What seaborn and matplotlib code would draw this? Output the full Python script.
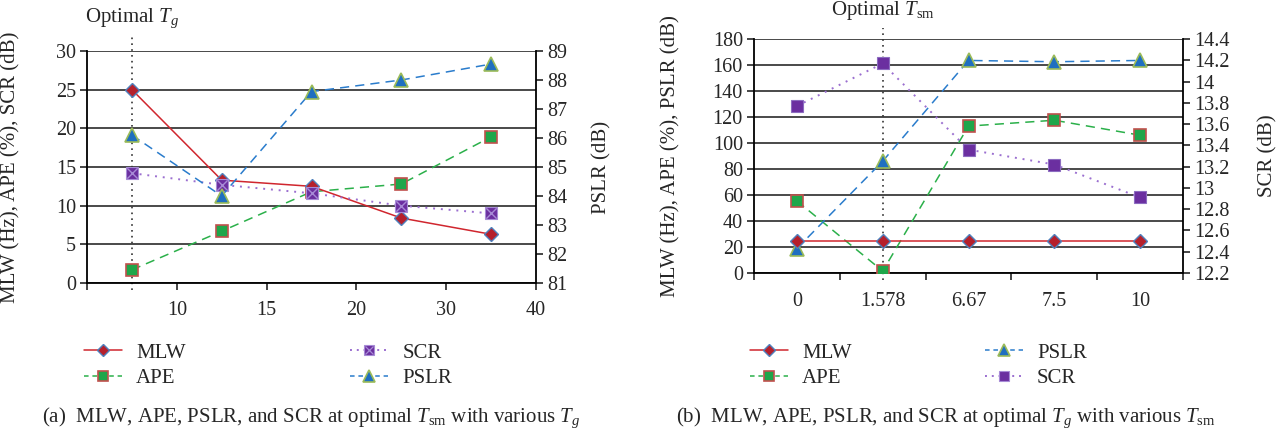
import numpy as np
import pandas as pd
import matplotlib
matplotlib.use("Agg")
import matplotlib.pyplot as plt
import seaborn as sns
from matplotlib.ticker import FixedLocator, FuncFormatter
from matplotlib.legend_handler import HandlerTuple
from matplotlib.lines import Line2D

# ---------------- data ----------------
# (a) various T_g
a_xlabels = ["10", "15", "20", "30", "40"]
a_mlw = [25.0, 13.3, 12.5, 8.4, 6.3]
a_ape = [1.7, 6.7, 11.8, 12.8, 18.9]
a_scr = [14.2, 12.7, 11.6, 10.0, 9.0]
a_pslr = [86.1, 84.0, 87.6, 88.0, 88.55]

# (b) various T_sm
b_cats = ["0", "1.578", "6.67", "7.5", "10"]
b_mlw = [25, 25, 25, 25, 25]
b_ape = [55.4, 1.5, 113, 117.5, 106]
b_pslr = [18.8, 86, 163.5, 162.5, 163.5]
b_scr = [13.77, 14.17, 13.36, 13.22, 12.91]

# ---------------- style ----------------
sns.set_style("white")
plt.rcParams["font.family"] = ["Liberation Serif", "DejaVu Serif"]
plt.rcParams["mathtext.fontset"] = "custom"
plt.rcParams["mathtext.rm"] = "Liberation Serif"
plt.rcParams["mathtext.it"] = "Liberation Serif:italic"
FS = 15
TFS = 14.5

C_MLW_L, C_MLW_F, C_MLW_E = "#d0262e", "#b5202c", "#4f81bd"
C_APE_L, C_APE_F, C_APE_E = "#2bb04a", "#1fa64a", "#c0504d"
C_SCR_L, C_SCR_F, C_SCR_X = "#9b6fd0", "#6b2fa0", "#a78bd6"
C_PS_L, C_PS_F, C_PS_E = "#2a7ccc", "#1f6fc0", "#9bbb59"
GRID = "#3a3a3a"

STY = {
    "MLW": dict(color=C_MLW_L, lw=1.1, linestyle="-", marker="D", markersize=7,
                markerfacecolor=C_MLW_F, markeredgecolor=C_MLW_E, markeredgewidth=1.0),
    "APE": dict(color=C_APE_L, lw=1.1, linestyle=(0, (6, 4)), marker="s", markersize=9,
                markerfacecolor=C_APE_F, markeredgecolor=C_APE_E, markeredgewidth=1.2),
    "SCR": dict(color=C_SCR_L, lw=1.4, linestyle=(0, (1, 3)), marker="s", markersize=9,
                markerfacecolor=C_SCR_F, markeredgecolor=C_SCR_X, markeredgewidth=0.8),
    "PSLR": dict(color=C_PS_L, lw=1.1, linestyle=(0, (6, 4)), marker="^", markersize=10,
                 markerfacecolor=C_PS_F, markeredgecolor=C_PS_E, markeredgewidth=1.2),
}
LEG_STY = {
    "MLW": dict(STY["MLW"], markersize=6),
    "APE": dict(STY["APE"], markersize=7.5, linestyle=(0, (3, 2.5))),
    "SCR": dict(STY["SCR"], markersize=7.5, linestyle=(0, (1, 2.5))),
    "PSLR": dict(STY["PSLR"], markersize=8, linestyle=(0, (3, 2.5))),
}

fig = plt.figure(figsize=(12.8, 4.4), dpi=100)
W, H = 1280, 440


def axes_px(x0, x1, ytop, ybot):
    return fig.add_axes([x0 / W, 1 - ybot / H, (x1 - x0) / W, (ybot - ytop) / H])


def style_axes(ax, ax2):
    for a in (ax, ax2):
        a.set_facecolor("none")
        for s in a.spines.values():
            s.set_visible(False)
    ax.spines["left"].set_visible(True)
    ax.spines["bottom"].set_visible(True)
    ax2.spines["right"].set_visible(True)
    for s in (ax.spines["left"], ax.spines["bottom"], ax2.spines["right"]):
        s.set_color("black")
        s.set_linewidth(1.3)
    ax.tick_params(axis="y", which="major", direction="out", length=5, width=1.2,
                   labelsize=TFS, pad=3, left=True)
    ax.tick_params(axis="x", which="major", direction="out", length=5, width=1.2,
                   labelsize=TFS, bottom=True)
    ax2.tick_params(axis="y", which="major", direction="out", length=5, width=1.2,
                    labelsize=TFS, pad=3, right=True)
    ax.yaxis.grid(True, color=GRID, lw=1.3)
    ax.xaxis.grid(False)
    ax2.grid(False)
    ax.set_axisbelow(True)


def proxy(name):
    return Line2D([0, 1], [0, 0], **LEG_STY[name])


# ================= (a) =================
n = len(a_xlabels)
pos = np.arange(n)
axA = axes_px(87, 536, 51, 283)
axA2 = axA.twinx()

dfA = pd.DataFrame({"pos": pos, "MLW": a_mlw, "APE": a_ape, "SCR": a_scr, "PSLR": a_pslr})

sns.lineplot(data=dfA, x="pos", y="MLW", ax=axA, zorder=4, **STY["MLW"])
sns.lineplot(data=dfA, x="pos", y="APE", ax=axA, zorder=3, **STY["APE"])
sns.lineplot(data=dfA, x="pos", y="SCR", ax=axA, zorder=5, **STY["SCR"])
sns.scatterplot(data=dfA, x="pos", y="SCR", ax=axA, marker="x", s=55,
                color=C_SCR_X, linewidth=1.0, zorder=6)
sns.lineplot(data=dfA, x="pos", y="PSLR", ax=axA2, zorder=3, **STY["PSLR"])

axA.set_xlim(-0.5, n - 0.5)
axA.set_ylim(0, 30)
axA.set_yticks(np.arange(0, 31, 5))
axA2.set_ylim(81, 89)
axA2.set_yticks(np.arange(81, 90, 1))
axA.set_xticks(np.arange(n + 1) - 0.5)
axA.set_xticklabels([""] + a_xlabels)
axA.tick_params(axis="x", pad=8)
style_axes(axA, axA2)
axA.set_xlabel("")
axA.set_ylabel("MLW (Hz), APE (%), SCR (dB)", fontsize=FS)
axA.yaxis.set_label_coords(-(87 - 20) / 449, 0.5)
axA2.set_ylabel("PSLR (dB)", fontsize=FS)
axA2.yaxis.set_label_coords((592 - 87) / 449, 0.5)
axA2.set_xlabel("")

axA.axvline(pos[0], ymin=-0.03, ymax=(283 - 35) / 232, color="#333333",
            lw=1.2, ls=(0, (1, 2.5)), clip_on=False, zorder=2)
axA.text(pos[0], (283 - 18) / 232, "Optimal $T_g$", transform=axA.get_xaxis_transform(),
         ha="center", va="center", fontsize=FS)

h_scr_x = Line2D([0], [0], ls="none", marker="x", color=C_SCR_X, markersize=6, mew=0.9)
fig.legend([proxy("MLW"), proxy("APE"), (proxy("SCR"), h_scr_x), proxy("PSLR")],
           ["MLW", "APE", "SCR", "PSLR"],
           handler_map={tuple: HandlerTuple(ndivide=1, pad=0)}, numpoints=1,
           loc="upper left", bbox_to_anchor=(84 / W, 1 - 343 / H), ncol=2,
           frameon=False, fontsize=FS, handlelength=1.8, handletextpad=0.7,
           columnspacing=7.9, labelspacing=0.3, borderpad=0, borderaxespad=0)

fig.text(311 / W, 1 - 418 / H,
         r"(a)  MLW, APE, PSLR, and SCR at optimal $T_{\mathrm{sm}}$ with various $T_g$",
         ha="center", va="center", fontsize=FS)

# ================= (b) =================
m = len(b_cats)
posb = np.arange(m)
axB = axes_px(754, 1183, 39, 273)
axB2 = axB.twinx()
dfB = pd.DataFrame({"pos": posb, "MLW": b_mlw, "APE": b_ape, "PSLR": b_pslr, "SCR": b_scr})

sns.lineplot(data=dfB, x="pos", y="MLW", ax=axB, zorder=4, **STY["MLW"])
sns.lineplot(data=dfB, x="pos", y="APE", ax=axB, zorder=3, **STY["APE"])
sns.lineplot(data=dfB, x="pos", y="PSLR", ax=axB, zorder=3, **STY["PSLR"])
scr_b = dict(STY["SCR"], markeredgecolor="#8c6cc0")
sns.lineplot(data=dfB, x="pos", y="SCR", ax=axB2, zorder=5, **scr_b)

axB.set_xlim(-0.5, m - 0.5)
axB.set_ylim(0, 180)
axB.set_yticks(np.arange(0, 181, 20))
axB2.set_ylim(12.2, 14.4)
axB2.yaxis.set_major_locator(FixedLocator(np.round(np.arange(12.2, 14.41, 0.2), 1)))
axB2.yaxis.set_major_formatter(FuncFormatter(lambda v, p: f"{round(v, 1):g}"))
axB.set_xticks(np.arange(m + 1) - 0.5)
axB.set_xticklabels([""] * (m + 1))
axB.set_xticks(posb, minor=True)
axB.set_xticklabels(b_cats, minor=True)
axB.tick_params(axis="x", which="minor", length=0, pad=14, labelsize=TFS)
style_axes(axB, axB2)
axB.set_xlabel("")
axB2.set_xlabel("")
axB.set_ylabel("MLW (Hz), APE (%), PSLR (dB)", fontsize=FS)
axB.yaxis.set_label_coords(-(754 - 680) / 429, 0.5)
axB2.set_ylabel("SCR (dB)", fontsize=FS)
axB2.yaxis.set_label_coords((1258 - 754) / 429, 0.5)

axB.axvline(posb[1], ymin=-0.03, ymax=(273 - 28) / 234, color="#333333",
            lw=1.2, ls=(0, (1, 2.5)), clip_on=False, zorder=2)
axB.text(posb[1], (273 - 10) / 234, r"Optimal $T_{\mathrm{sm}}$",
         transform=axB.get_xaxis_transform(), ha="center", va="center", fontsize=FS)

fig.legend([proxy("MLW"), proxy("APE"), proxy("PSLR"), proxy("SCR")],
           ["MLW", "APE", "PSLR", "SCR"], numpoints=1,
           loc="upper left", bbox_to_anchor=(750 / W, 1 - 343 / H), ncol=2,
           frameon=False, fontsize=FS, handlelength=1.8, handletextpad=0.7,
           columnspacing=6.4, labelspacing=0.3, borderpad=0, borderaxespad=0)

fig.text(946 / W, 1 - 418 / H,
         r"(b)  MLW, APE, PSLR, and SCR at optimal $T_g$ with various $T_{\mathrm{sm}}$",
         ha="center", va="center", fontsize=FS)

fig.savefig("out.png", dpi=100)
